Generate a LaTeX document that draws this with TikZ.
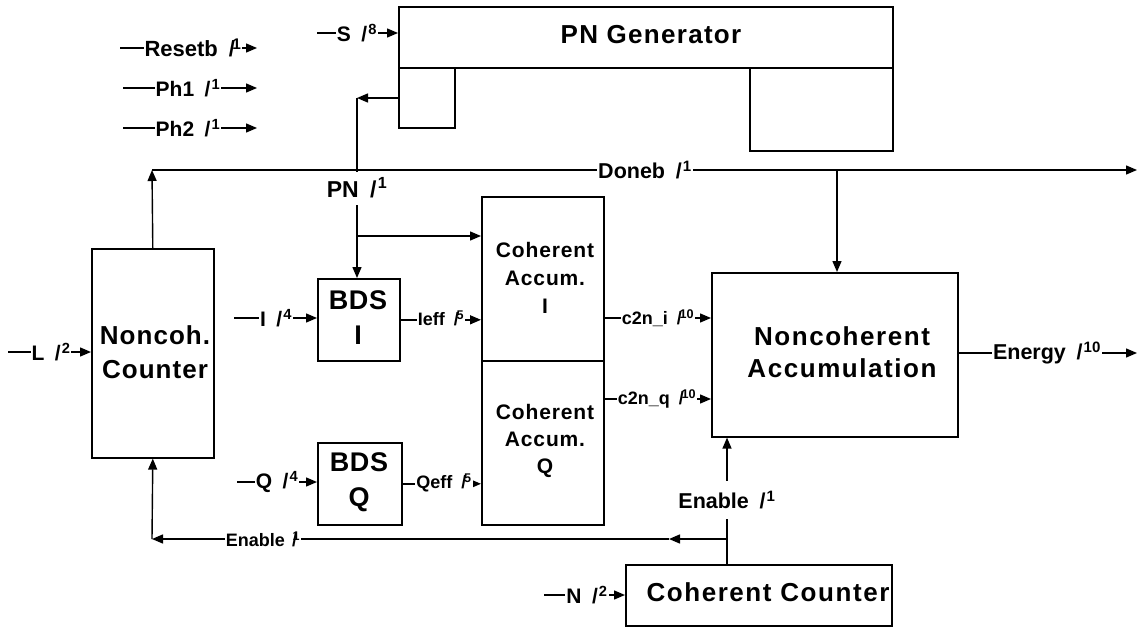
\documentclass[tikz,border=0pt]{standalone}
\usepackage{fontspec}
\setmainfont{Liberation Sans}
\usetikzlibrary{arrows.meta}
\newcommand\wsl[1]{\hspace{0.5em}/\kern0.05em\textsuperscript{#1}}
\newcommand\osl[1]{\hspace{0.5em}/\kern-0.12em\textsuperscript{#1}}
\newcommand\fsz[2]{\fontsize{#1}{#2}\selectfont}
\begin{document}
\begin{tikzpicture}[x=1pt,y=-1pt,
  blk/.style={draw, line width=1.6pt, inner sep=0pt, anchor=north west},
  wire/.style={line width=1.4pt},
  arr/.style={wire, -{Triangle[length=11pt,width=9pt]}},
  lab/.style={fill=white, inner sep=1pt, font=\bfseries\fsz{21}{23}},
  slab/.style={fill=white, inner sep=1pt, font=\bfseries\fsz{18}{20}},
  mlab/.style={fill=white, inner sep=1pt, font=\bfseries\fsz{21.5}{23}},
  ttl/.style={align=center, inner sep=0pt}
]
\useasboundingbox (0,0) rectangle (1141,627);
% blocks
\node[blk, minimum width=494pt, minimum height=61pt] (pngen) at (398,6) {};
\node[blk, minimum width=56pt, minimum height=60pt] (pnl) at (398,67) {};
\node[blk, minimum width=143pt, minimum height=83pt] (pnr) at (749,67) {};
\node[blk, minimum width=122pt, minimum height=209pt] (nc) at (91,248) {};
\node[blk, minimum width=82pt, minimum height=82pt] (bdsi) at (317,278) {};
\node[blk, minimum width=84pt, minimum height=82pt] (bdsq) at (317,442) {};
\node[blk, minimum width=122pt, minimum height=164pt] (cai) at (481,196) {};
\node[blk, minimum width=122pt, minimum height=164pt] (caq) at (481,360) {};
\node[blk, minimum width=246pt, minimum height=164pt] (na) at (711,272) {};
\node[blk, minimum width=266pt, minimum height=61pt] (cc) at (625,564) {};
% coordinates
\coordinate (sIn) at (317,33);
\coordinate (rA) at (120,48);
\coordinate (rB) at (257,48);
\coordinate (p1A) at (123,88);
\coordinate (p1B) at (257,88);
\coordinate (p2A) at (123,128);
\coordinate (p2B) at (257,128);
\coordinate (pnc) at (357,98);
\coordinate (pnb) at (357,236);
\coordinate (dl) at (152,170);
\coordinate (dr) at (1137,170);
\coordinate (dj) at (837,170);
\coordinate (lA) at (8,352);
\coordinate (iA) at (234,318);
\coordinate (qA) at (237,482);
\coordinate (ci) at (603,318);
\coordinate (cq) at (603,399);
\coordinate (en) at (1137,353);
\coordinate (nA) at (544,595);
\coordinate (ev) at (727,539);
\coordinate (ea) at (669,539);
\coordinate (ecor) at (152,539);
% wires
\draw[arr] (sIn) -- (pngen.west |- sIn);
\draw[arr] (rA) -- (rB);
\draw[arr] (p1A) -- (p1B);
\draw[arr] (p2A) -- (p2B);
\draw[arr] (pnl.west |- pnc) -- (pnc);
\draw[arr] (pnc) -- (pnc |- bdsi.north);
\draw[arr] (pnb) -- (pnb -| cai.west);
\draw[arr] (nc.north) -- (dl);
\draw[arr] (dl) -- (dr);
\draw[arr] (dj) -- (dj |- na.north);
\draw[arr] (lA) -- (lA -| nc.west);
\draw[arr] (iA) -- (iA -| bdsi.west);
\draw[arr] (qA) -- (qA -| bdsq.west);
\draw[arr] (bdsi.east) -- (bdsi.east -| cai.west);
\draw[arr] (bdsq.east) -- (bdsq.east -| caq.west);
\draw[arr] (cai.east |- ci) -- (ci -| na.west);
\draw[arr] (caq.east |- cq) -- (cq -| na.west);
\draw[arr] (na.east |- en) -- (en);
\draw[arr] (nA) -- (nA -| cc.west);
\draw[arr] (cc.north -| ev) -- (ev |- na.south);
\draw[arr] (ev) -- (ea);
\draw[arr] (ea) -- (ecor);
\draw[arr] (ecor) -- (nc.south);
% block titles
\node[ttl, font=\bfseries\fsz{26}{28}\addfontfeatures{LetterSpace=5}] (tpn) at (651,35) {PN Generator};
\node[ttl, font=\bfseries\fsz{26}{34}\addfontfeatures{LetterSpace=4}] (tnc) at (155,352) {Noncoh.\\Counter};
\node[ttl, font=\bfseries\fsz{27}{35}\addfontfeatures{LetterSpace=2}] (tbi) at (358,318) {BDS\\I};
\node[ttl, font=\bfseries\fsz{27}{35}\addfontfeatures{LetterSpace=2}] (tbq) at (359,482) {BDS\\Q};
\node[ttl, font=\bfseries\fsz{21}{28}\addfontfeatures{LetterSpace=4}] (tcai) at (545,278) {Coherent\\Accum.\\I};
\node[ttl, font=\bfseries\fsz{21}{27}\addfontfeatures{LetterSpace=4}] (tcaq) at (545,441) {Coherent\\Accum.\\Q};
\node[ttl, font=\bfseries\fsz{26}{32}\addfontfeatures{LetterSpace=6}] (tna) at (842,352) {Noncoherent\\Accumulation};
\node[ttl, font=\bfseries\fsz{26}{28}\addfontfeatures{LetterSpace=6}] (tcc) at (768,592) {Coherent Counter};
% wire labels
\node[lab] (lS) at (357,33) {S\wsl{8}};
\node[lab, font=\bfseries\fsz{22}{24}] (lR) at (193,48) {Resetb\osl{1}};
\node[lab] (lP1) at (188,88) {Ph1\wsl{1}};
\node[lab] (lP2) at (188,128) {Ph2\wsl{1}};
\node[lab, font=\bfseries\fsz{23}{25}, minimum height=33pt] (lPN) at (357,188) {PN\wsl{1}};
\node[mlab] (lD) at (645,170) {Doneb\wsl{1}};
\node[lab] (lL) at (51,352) {L\wsl{2}};
\node[lab] (lI) at (276,318) {I\wsl{4}};
\node[lab] (lQ) at (277,482) {Q\wsl{4}};
\node[slab] (lIe) at (441,318) {Ieff\osl{5}};
\node[slab] (lQe) at (444,483) {Qeff\osl{5}};
\node[slab] (lci) at (658,318) {c2n\_i\osl{10}};
\node[slab] (lcq) at (657,399) {c2n\_q\osl{10}};
\node[mlab] (lE) at (1047,353) {Energy\wsl{10}};
\node[lab] (lN) at (587,595) {N\wsl{2}};
\node[mlab, minimum height=38pt] (lEn) at (727,500) {Enable\wsl{1}};
\node[slab] (lEb) at (263,539) {Enable\hspace{0.4em}/\kern-0.25em\textsuperscript{1}};
\end{tikzpicture}
\end{document}
